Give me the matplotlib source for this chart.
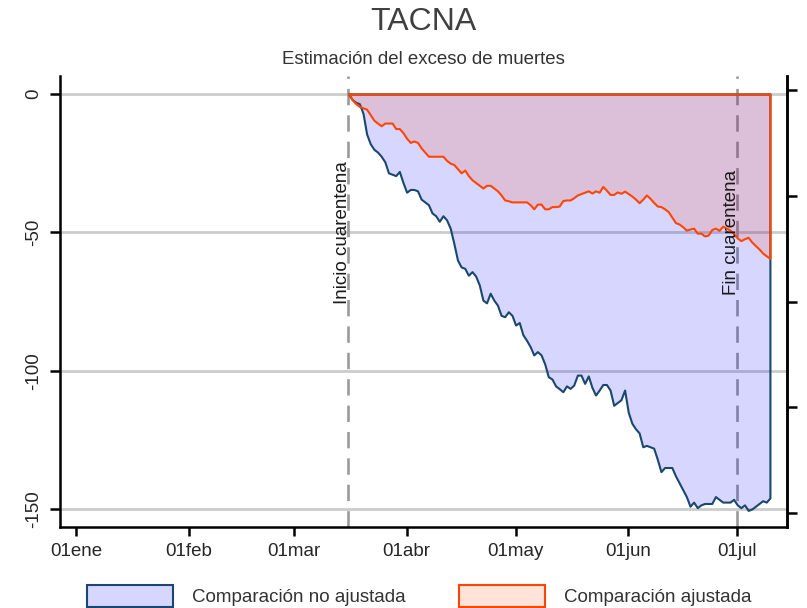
import numpy as np
import pandas as pd
import matplotlib
matplotlib.use("Agg")
import matplotlib.pyplot as plt

plt.rcParams['font.family'] = ['Liberation Sans', 'DejaVu Sans']

# ---------------- data ----------------
title = "TACNA"
subtitle = "Estimación del exceso de muertes"
series_start = "2020-03-16"
year_start = "2020-01-01"

no_ajustada = [
    0, -2, -3, -3.5, -7, -14.5, -18, -20, -21, -22.5,
    -24.5, -28.5, -29, -29.5, -28, -32, -35.5, -34.5, -34.5, -35,
    -38, -39, -40, -43, -44, -46, -44, -45.5, -48.5, -54,
    -60, -62.5, -63, -65.5, -64.2, -65.8, -69, -74.5, -75.5, -72,
    -74.5, -76.3, -80, -80.5, -78.7, -80, -83.5, -82.6, -87, -89,
    -91.3, -94.3, -93.1, -94.3, -97.5, -102.2, -103, -105.5, -106.5, -107.6,
    -105.5, -106.4, -105.2, -101.6, -101.6, -104.6, -101.9, -106, -108.8, -107,
    -105, -105, -107, -112.5, -111.5, -110.5, -107, -115, -119, -121,
    -122.5, -127.5, -127, -127.5, -128, -132, -136.5, -135, -135, -135,
    -138, -140.5, -143, -145.5, -149, -147.5, -149.5, -148.5, -148, -148,
    -148, -145.5, -146.5, -147.5, -147.5, -147.5, -146.5, -148.5, -149.5, -148.5,
    -150.5, -150, -149, -148, -147, -147.5, -146,
]

ajustada = [
    0, -2, -3.5, -4.5, -5, -5.5, -7.5, -9.5, -10.5, -11.5,
    -10.5, -10.5, -10.5, -12.5, -12.5, -14, -16, -17.5, -17, -17.5,
    -19.5, -21, -22.5, -22.5, -22.5, -22.5, -22.5, -24, -25, -25.5,
    -27, -28.5, -27.5, -29.5, -31, -32, -33, -34, -33, -33,
    -34, -35, -36.5, -38.3, -38.6, -39, -39, -39, -39, -39,
    -40, -41.5, -39.8, -39.8, -41.5, -41.5, -40.7, -40.7, -40.5, -38.5,
    -38.3, -38.3, -37.5, -36.5, -36, -35.5, -35, -35.8, -35, -35.5,
    -33.4, -34.8, -36.3, -36.3, -35.4, -35.9, -35.1, -36, -36.9, -38,
    -39.3, -38, -36.5, -37.7, -39.2, -40.5, -40.7, -41.5, -42.5, -44.5,
    -46.5, -47, -48, -49.2, -48.8, -48.5, -50.3, -50.3, -51.3, -51,
    -49, -48.5, -49.3, -47.8, -48.5, -49.2, -50.5, -52, -53, -52.3,
    -51.8, -53.5, -54.8, -56, -57.5, -58.5, -59.4,
]

tick_dates = ["2020-01-01", "2020-02-01", "2020-03-01", "2020-04-01",
              "2020-05-01", "2020-06-01", "2020-07-01"]
tick_labels = ["01ene", "01feb", "01mar", "01abr", "01may", "01jun", "01jul"]
y_ticks = [0, -50, -100, -150]

event_dates = ["2020-03-16", "2020-07-01"]
event_labels = ["Inicio cuarentena", "Fin cuarentena"]

legend_labels = ["Comparación no ajustada", "Comparación ajustada"]

# ---------------- helpers ----------------
t0 = pd.Timestamp(year_start)
def day(d):
    return (pd.Timestamp(d) - t0).days

dates = pd.date_range(series_start, periods=len(no_ajustada), freq="D")
x = np.array([(d - t0).days for d in dates])

# ---------------- figure ----------------
W, H = 807, 608
fig = plt.figure(figsize=(W / 100, H / 100), dpi=100)
ax = fig.add_axes([60 / W, 1 - 527 / H, (787 - 60) / W, (527 - 76) / H])

navy = "#1a476f"
orng = "#ff4500"
blue_fill = (0.0, 0.0, 1.0, 0.16)
orng_fill = (1.0, 0.27, 0.0, 0.15)

# grid
for yt in y_ticks:
    ax.axhline(yt, color="#cccccc", lw=2.0, zorder=0)

# event lines
for ed in event_dates:
    ax.axvline(day(ed), color="#9a9a9a", lw=1.9, dashes=(6.2, 3.8), zorder=1)

h1 = ax.fill_between(x, no_ajustada, 0, facecolor=blue_fill, edgecolor=navy,
                     linewidth=1.5, zorder=2, label=legend_labels[0])
h2 = ax.fill_between(x, ajustada, 0, facecolor=orng_fill, edgecolor=orng,
                     linewidth=1.5, zorder=3, label=legend_labels[1])

# event labels
for ed, lab in zip(event_dates, event_labels):
    ax.text(day(ed) - 1.7, -50, lab, rotation=90, ha="center", va="center",
            fontsize=13.5, color="#1a1a1a", zorder=5)

ax.set_xlim(-4.4, 195.7)
ax.set_ylim(-156.5, 6.5)

ax.set_xticks([day(d) for d in tick_dates])
ax.set_xticklabels(tick_labels)
ax.set_yticks(y_ticks)
ax.set_yticklabels([str(v) for v in y_ticks], rotation=90, va="center")

for s in ["left", "bottom", "right"]:
    ax.spines[s].set_linewidth(1.8)
    ax.spines[s].set_color("black")
ax.spines["top"].set_visible(False)

ax.tick_params(axis="x", length=6.5, width=1.8, pad=5, labelsize=13.5,
               labelcolor="#262626")
ax.tick_params(axis="y", length=7, width=1.8, pad=6, labelsize=13.5,
               labelcolor="#262626")

ax2 = ax.twinx()
ax2.set_ylim(0, 1)
ax2.set_yticks(np.linspace(0.031, 0.969, 5))
ax2.set_yticklabels([])
ax2.tick_params(axis="y", length=7, width=1.8)
for s in ["left", "bottom", "top"]:
    ax2.spines[s].set_visible(False)
ax2.spines["right"].set_linewidth(1.8)

# titles
fig.text(423 / W, 1 - 22 / H, title, ha="center", va="center",
         fontsize=23, color="#404040")
fig.text(423 / W, 1 - 60 / H, subtitle, ha="center", va="center",
         fontsize=13.4, color="#333333")

# legend
fig.legend(handles=[h1, h2], labels=legend_labels, loc="upper left",
           bbox_to_anchor=(87 / W, 1 - 585 / H), ncol=2, frameon=False,
           fontsize=13.5, handlelength=4.6, handleheight=1.45,
           handletextpad=1.0, columnspacing=2.85, borderpad=0,
           borderaxespad=0, labelcolor="#333333")

fig.savefig("out.png", dpi=100)
